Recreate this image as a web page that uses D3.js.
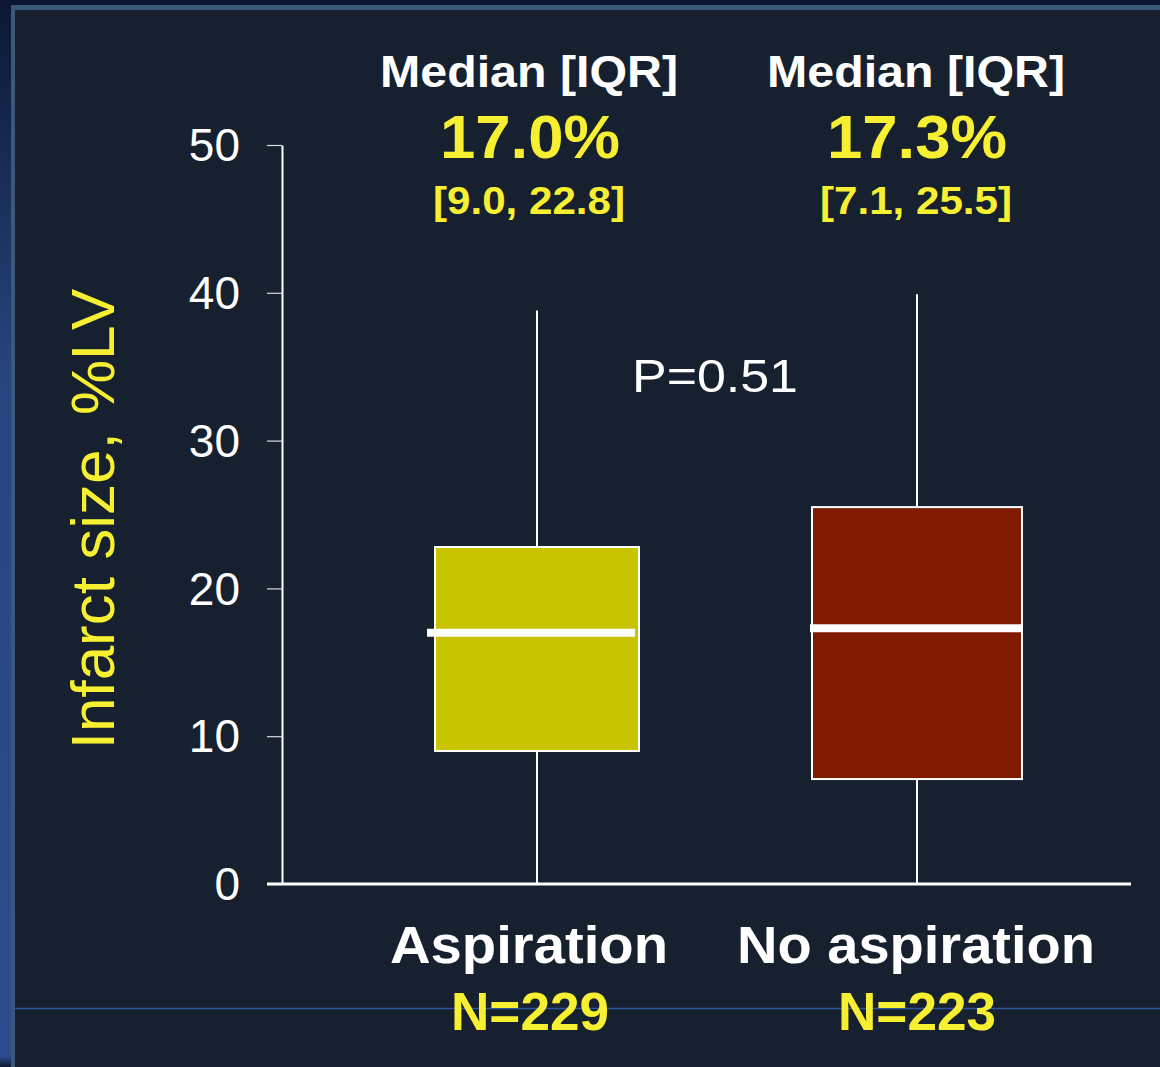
<!DOCTYPE html>
<html>
<head>
<meta charset="utf-8">
<script src="https://cdn.jsdelivr.net/npm/d3@7"></script>
<style>
  html, body { margin: 0; padding: 0; background: #0b1631; }
  svg { display: block; }
  text { font-family: "Liberation Sans", Arial, Helvetica, sans-serif; }
</style>
</head>
<body>
<svg id="chart" width="1160" height="1067"></svg>
<script>
// Infarct size by treatment group: median, interquartile range and whiskers
const groups = ["Aspiration", "No aspiration"];
const groupN = ["N=229", "N=223"];
const medians = [17.0, 17.3];
const q1 = [9.0, 7.1];
const q3 = [22.8, 25.5];
const whiskerLow = [0, 0];
const whiskerHigh = [38.8, 39.9];
const medianLabels = ["17.0%", "17.3%"];
const iqrLabels = ["[9.0, 22.8]", "[7.1, 25.5]"];
const yTicks = [0, 10, 20, 30, 40, 50];
const pValueLabel = "P=0.51";
const yTitle = "Infarct size,  %LV";
const boxColors = ["#c9c400", "#801a00"];

const YELLOW = "#f7ef32";
const svg = d3.select("#chart");

// slide frame
const defs = svg.append("defs");
const grad = defs.append("linearGradient").attr("id", "edge").attr("x1", 0).attr("y1", 0).attr("x2", 0).attr("y2", 1);
grad.append("stop").attr("offset", "0%").attr("stop-color", "#0c1733");
grad.append("stop").attr("offset", "35%").attr("stop-color", "#27457f");
grad.append("stop").attr("offset", "99%").attr("stop-color", "#2c4d8d");
grad.append("stop").attr("offset", "100%").attr("stop-color", "#0c1733");
svg.append("rect").attr("x", 0).attr("y", 0).attr("width", 1160).attr("height", 1067).attr("fill", "#0b1631");
svg.append("rect").attr("x", 0).attr("y", 0).attr("width", 11).attr("height", 1067).attr("fill", "url(#edge)");
svg.append("rect").attr("x", 11).attr("y", 5).attr("width", 1149).attr("height", 1062).attr("fill", "#3b5878");
svg.append("rect").attr("x", 15).attr("y", 10).attr("width", 1145).attr("height", 1057).attr("fill", "#17202e");
svg.append("line").attr("x1", 15).attr("x2", 1160).attr("y1", 1008.5).attr("y2", 1008.5)
  .attr("stroke", "#2c55a0").attr("stroke-width", 1.3);

// scales
const y = d3.scaleLinear().domain([0, 50]).range([884, 145]);
const x = d3.scalePoint().domain(groups).range([537, 917]);
const boxW = [204, 210];

// y axis
const yAxis = svg.append("g").attr("transform", "translate(282,0)")
  .call(d3.axisLeft(y).tickValues(yTicks).tickSize(15).tickPadding(27).tickSizeOuter(0));
yAxis.select(".domain").attr("stroke", "#ffffff").attr("stroke-width", 2);
yAxis.selectAll(".tick line").attr("stroke", "#d8dce4").attr("stroke-width", 1.2);
yAxis.selectAll(".tick text").attr("fill", "#ffffff").attr("font-size", 46)
  .attr("font-family", "'Liberation Sans', Arial, sans-serif").attr("dy", "0.34em");

// x axis baseline
svg.append("line").attr("x1", 267).attr("x2", 1131).attr("y1", y(0)).attr("y2", y(0))
  .attr("stroke", "#ffffff").attr("stroke-width", 3);

// boxes
const g = svg.append("g");
groups.forEach((name, i) => {
  const cx = x(name);
  g.append("line").attr("x1", cx).attr("x2", cx).attr("y1", y(whiskerLow[i])).attr("y2", y(whiskerHigh[i]))
    .attr("stroke", "#ffffff").attr("stroke-width", 2);
  g.append("rect")
    .attr("x", cx - boxW[i] / 2).attr("width", boxW[i])
    .attr("y", y(q3[i])).attr("height", y(q1[i]) - y(q3[i]))
    .attr("fill", boxColors[i]).attr("stroke", "#ffffff").attr("stroke-width", 2);
  g.append("line")
    .attr("x1", cx - boxW[i] / 2 - (i === 0 ? 8 : 2)).attr("x2", cx + boxW[i] / 2 - (i === 0 ? 4 : 0))
    .attr("y1", y(medians[i])).attr("y2", y(medians[i]))
    .attr("stroke", "#ffffff").attr("stroke-width", 8);
});

// text helper: fixed advance width
function label(txt, cx, base, size, opts) {
  const t = svg.append("text").text(txt)
    .attr("x", cx).attr("y", base)
    .attr("font-size", size)
    .attr("font-weight", opts.bold ? "bold" : "normal")
    .attr("fill", opts.fill)
    .attr("text-anchor", opts.anchor || "middle");
  if (opts.width) t.attr("textLength", opts.width).attr("lengthAdjust", "spacingAndGlyphs");
  return t;
}

const headCx = [529, 916];
groups.forEach((name, i) => {
  label("Median [IQR]", headCx[i], 87, 45, { bold: true, fill: "#ffffff", width: 298 });
  label(medianLabels[i], headCx[i] + 1, 158, 61, { bold: true, fill: YELLOW, width: 180 });
  label(iqrLabels[i], headCx[i], 214, 38, { bold: true, fill: YELLOW, width: 192 });
  label(name, [529, 916][i], 963, 51, { bold: true, fill: "#ffffff", width: i === 0 ? 278 : 358 });
  label(groupN[i], [530, 917][i], 1030, 53, { bold: true, fill: YELLOW, width: 158 });
});

label(pValueLabel, 632, 392, 46, { bold: false, fill: "#ffffff", anchor: "start", width: 166 });

svg.append("text").text(yTitle)
  .attr("transform", "translate(114,519) rotate(-90)")
  .attr("text-anchor", "middle")
  .attr("font-size", 62)
  .attr("fill", YELLOW);
</script>
</body>
</html>
